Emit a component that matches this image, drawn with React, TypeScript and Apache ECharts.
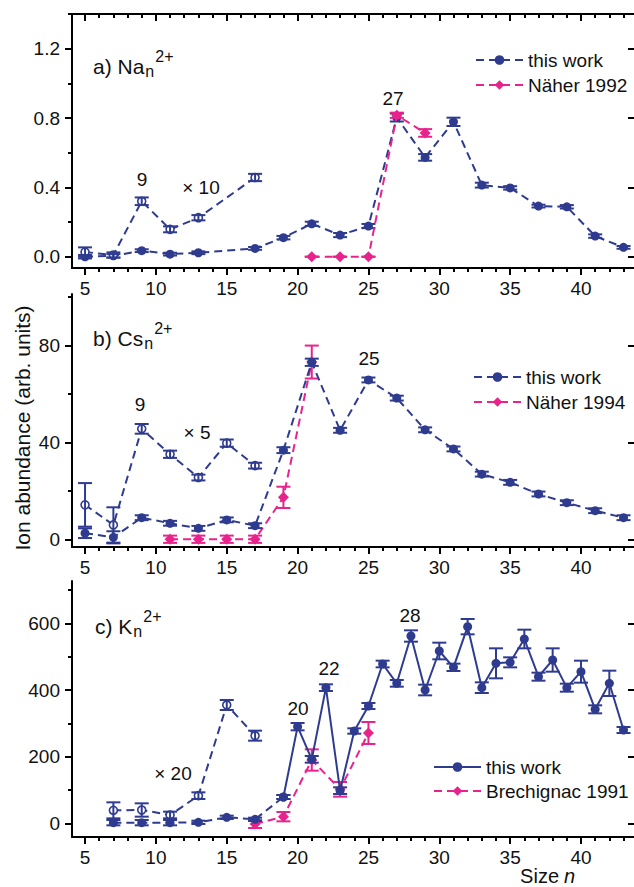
import React, { useEffect, useRef } from "react";
import * as echarts from "echarts";

const FONT = "'Liberation Sans', Arial, Helvetica, sans-serif";
const NAVY = "#2e3b8f";
const PINK = "#e8238c";
const AXIS = "#000000";
const TEXT = "#111111";

// ---------- shared ticks ----------
const xMajorTicks = [5, 10, 15, 20, 25, 30, 35, 40];
const xMinorTicks = [6, 7, 8, 9, 11, 12, 13, 14, 16, 17, 18, 19, 21, 22, 23, 24, 26, 27, 28, 29, 31, 32, 33, 34, 36, 37, 38, 39, 41, 42, 43];

// ---------- panel a: Na ----------
const naYMajor = [0, 0.4, 0.8, 1.2];
const naYMinor = [0.2, 0.6, 1.0, 1.4];
const naSizes = [5, 7, 9, 11, 13, 17, 19, 21, 23, 25, 27, 29, 31, 33, 35, 37, 39, 41, 43];
const naValues = [0.0, 0.005, 0.035, 0.015, 0.023, 0.048, 0.11, 0.19, 0.125, 0.177, 0.803, 0.573, 0.778, 0.413, 0.397, 0.292, 0.288, 0.119, 0.054];
const naErrors = [0.01, 0.01, 0.008, 0.008, 0.008, 0.008, 0.01, 0.012, 0.012, 0.012, 0.023, 0.019, 0.024, 0.014, 0.01, 0.008, 0.01, 0.01, 0.008];
const naX10Sizes = [5, 7, 9, 11, 13, 17];
const naX10Values = [0.027, 0.01, 0.32, 0.158, 0.225, 0.457];
const naX10Errors = [0.027, 0.015, 0.022, 0.017, 0.015, 0.021];
const naher92Sizes = [21, 23, 25, 27, 29];
const naher92Values = [0, 0, 0, 0.816, 0.714];
const naher92Errors = [0, 0, 0, 0.015, 0.022];

// ---------- panel b: Cs ----------
const csYMajor = [0, 40, 80];
const csYMinor = [20, 60, 100];
const csSizes = [5, 7, 9, 11, 13, 15, 17, 19, 21, 23, 25, 27, 29, 31, 33, 35, 37, 39, 41, 43];
const csValues = [2.5, 0.8, 8.9, 6.6, 4.5, 8.0, 5.6, 36.8, 73.1, 45.0, 65.8, 58.3, 45.2, 37.3, 26.9, 23.5, 18.7, 15.1, 11.8, 8.9];
const csErrors = [2, 2.5, 1, 1, 1, 1, 1, 1.2, 1.5, 1, 1, 1, 1, 1, 1, 1, 1, 1, 1, 1];
const csX5Sizes = [5, 7, 9, 11, 13, 15, 17];
const csX5Values = [14.2, 5.9, 45.6, 35.1, 25.5, 39.7, 30.4];
const csX5Errors = [9, 7.3, 2, 1.5, 1.2, 1.5, 1.2];
const naher94Sizes = [11, 13, 15, 17, 19, 21];
const naher94Values = [0, 0, 0, 0, 17.3, 73.2];
const naher94Errors = [1.5, 1.5, 1.5, 1.5, 4.4, 6.8];

// ---------- panel c: K ----------
const kYMajor = [0, 200, 400, 600];
const kYMinor = [100, 300, 500, 700];
const kLowSizes = [7, 9, 11, 13, 15, 17, 19];
const kLowValues = [2, 2, 2, 3, 18, 12, 79];
const kLowErrors = [8, 8, 8, 5, 5, 5, 6];
const kSizes = [19, 20, 21, 22, 23, 24, 25, 26, 27, 28, 29, 30, 31, 32, 33, 34, 35, 36, 37, 38, 39, 40, 41, 42, 43];
const kValues = [79, 290, 192, 407, 98, 277, 352, 478, 420, 562, 400, 517, 468, 590, 407, 480, 483, 553, 440, 490, 407, 455, 342, 420, 280];
const kErrors = [6, 11, 10, 10, 10, 8, 9, 10, 10, 17, 16, 25, 11, 23, 16, 45, 15, 28, 12, 35, 12, 33, 12, 38, 9];
const kX20Sizes = [7, 9, 11, 13, 15, 17];
const kX20Values = [39, 40, 25, 83, 355, 263];
const kX20Errors = [24, 20, 10, 10, 15, 15];
const brSizes = [17, 19, 21, 23, 25];
const brValues = [-2, 20, 190, 102, 271];
const brErrors = [12, 14, 32, 22, 33];

// ---------- layout ----------
const X_MIN = 4.08;
const X_MAX = 43.74;
const GRID_LEFT = 72;
const GRID_WIDTH = 562;

function pairs(xs: number[], ys: number[]) {
  return xs.map((x, i) => [x, ys[i]]);
}

function errorBars(xi: number, yi: number, xs: number[], ys: number[], es: number[], color: string, z: number) {
  return {
    type: "custom",
    xAxisIndex: xi,
    yAxisIndex: yi,
    silent: true,
    clip: true,
    z,
    data: xs.map((x, i) => [x, ys[i] - es[i], ys[i] + es[i]]),
    encode: { x: 0, y: [1, 2] },
    renderItem: (_params: any, api: any) => {
      const lo = api.coord([api.value(0), api.value(1)]);
      const hi = api.coord([api.value(0), api.value(2)]);
      const w = 7;
      const style = { stroke: color, lineWidth: 2 };
      return {
        type: "group",
        children: [
          { type: "line", shape: { x1: lo[0], y1: lo[1], x2: hi[0], y2: hi[1] }, style },
          { type: "line", shape: { x1: lo[0] - w, y1: lo[1], x2: lo[0] + w, y2: lo[1] }, style },
          { type: "line", shape: { x1: hi[0] - w, y1: hi[1], x2: hi[0] + w, y2: hi[1] }, style },
        ],
      };
    },
  };
}

function lineSeries(
  name: string,
  xi: number,
  yi: number,
  xs: number[],
  ys: number[],
  opts: { color: string; symbol: string; size: number; dashed: boolean; open?: boolean; z: number }
) {
  return {
    type: "line",
    name,
    xAxisIndex: xi,
    yAxisIndex: yi,
    data: pairs(xs, ys),
    symbol: opts.symbol,
    symbolSize: opts.size,
    showAllSymbol: true,
    clip: true,
    z: opts.z,
    lineStyle: { color: opts.color, width: 2, type: opts.dashed ? [8, 5] : "solid" },
    itemStyle: opts.open
      ? { color: "#ffffff", borderColor: opts.color, borderWidth: 1.6 }
      : { color: opts.color, borderWidth: 0 },
    emphasis: { disabled: true },
  };
}

function xAxesFor(grid: number, withTop: boolean) {
  const base = { type: "value", gridIndex: grid, min: X_MIN, max: X_MAX, splitLine: { show: false } };
  const tickStyle = { color: AXIS, width: 2 };
  const axes: any[] = [
    {
      ...base,
      position: "bottom",
      axisLine: { show: true, onZero: false, lineStyle: { color: AXIS, width: 2 } },
      axisTick: { show: true, inside: false, length: 7, lineStyle: tickStyle, customValues: xMajorTicks },
      axisLabel: { show: true, customValues: xMajorTicks, margin: 11, fontSize: 19, fontFamily: FONT, color: TEXT },
    },
    {
      ...base,
      position: "bottom",
      axisLine: { show: false, onZero: false },
      axisTick: { show: true, inside: false, length: 4, lineStyle: tickStyle, customValues: xMinorTicks },
      axisLabel: { show: false },
    },
  ];
  if (withTop) {
    axes.push(
      {
        ...base,
        position: "top",
        axisLine: { show: true, onZero: false, lineStyle: { color: AXIS, width: 2 } },
        axisTick: { show: true, inside: true, length: 7, lineStyle: tickStyle, customValues: xMajorTicks },
        axisLabel: { show: false },
      },
      {
        ...base,
        position: "top",
        axisLine: { show: false, onZero: false },
        axisTick: { show: true, inside: true, length: 4, lineStyle: tickStyle, customValues: xMinorTicks },
        axisLabel: { show: false },
      }
    );
  }
  return axes;
}

function yAxesFor(grid: number, min: number, max: number, major: number[], minor: number[], fmt: (v: number) => string) {
  const base = { type: "value", gridIndex: grid, min, max, splitLine: { show: false } };
  const tickStyle = { color: AXIS, width: 2 };
  return [
    {
      ...base,
      position: "left",
      axisLine: { show: true, onZero: false, lineStyle: { color: AXIS, width: 2 } },
      axisTick: { show: true, inside: false, length: 7, lineStyle: tickStyle, customValues: major },
      axisLabel: { show: true, customValues: major, formatter: fmt, margin: 12, fontSize: 19, fontFamily: FONT, color: TEXT },
    },
    {
      ...base,
      position: "left",
      axisLine: { show: false, onZero: false },
      axisTick: { show: true, inside: false, length: 4, lineStyle: tickStyle, customValues: minor },
      axisLabel: { show: false },
    },
    {
      ...base,
      position: "right",
      axisLine: { show: false, onZero: false },
      axisTick: { show: true, inside: true, length: 6, lineStyle: tickStyle, customValues: major },
      axisLabel: { show: false },
    },
  ];
}

function txt(x: number, y: number, text: string, size = 19, align = "center", extra: any = {}) {
  return {
    type: "text",
    x,
    y,
    silent: true,
    z: 50,
    ...extra,
    style: {
      text,
      fontSize: size,
      fontFamily: FONT,
      fill: TEXT,
      align,
      verticalAlign: "middle",
      ...(extra.style || {}),
    },
  };
}

function panelTitle(x: number, y: number, main: string, sub: string, sup: string, mainWidthEm: number) {
  const mainSize = 21;
  const subX = x + mainWidthEm * mainSize + 1;
  return [
    txt(x, y, main, mainSize, "left"),
    txt(subX, y + 5, sub, 16, "left"),
    txt(subX + 10, y - 10, sup, 16, "left"),
  ];
}

const legendFmt = (name: string) => (name.indexOf("this work") === 0 ? "this work" : name);

function legendAt(left: number, top: number, data: string[], gap: number) {
  return {
    data,
    left,
    top,
    orient: "vertical",
    itemWidth: 47,
    itemHeight: 12,
    itemGap: gap,
    selectedMode: false,
    formatter: legendFmt,
    textStyle: { fontSize: 19, fontFamily: FONT, color: TEXT, lineHeight: 22 },
  };
}

export default function App() {
  const ref = useRef<HTMLDivElement>(null);

  useEffect(() => {
    if (!ref.current) return;
    const chart = echarts.init(ref.current, undefined, { renderer: "svg" });

    const fmt1 = (v: number) => v.toFixed(1);
    const fmt0 = (v: number) => String(Math.round(v));

    const option: any = {
      animation: false,
      backgroundColor: "#ffffff",
      grid: [
        { left: GRID_LEFT, top: 14, width: GRID_WIDTH, height: 254 },
        { left: GRID_LEFT, top: 294, width: GRID_WIDTH, height: 253 },
        { left: GRID_LEFT, top: 581, width: GRID_WIDTH, height: 256 },
      ],
      // x axes: 0..3 grid a, 4..5 grid b, 6..7 grid c
      xAxis: [...xAxesFor(0, true), ...xAxesFor(1, false), ...xAxesFor(2, false)],
      // y axes: 0..2 grid a, 3..5 grid b, 6..8 grid c
      yAxis: [
        ...yAxesFor(0, -0.065, 1.4, naYMajor, naYMinor, fmt1),
        ...yAxesFor(1, -3.2, 101.3, csYMajor, csYMinor, fmt0),
        ...yAxesFor(2, -41, 727, kYMajor, kYMinor, fmt0),
      ],
      legend: [
        legendAt(470, 44, ["this work (Na)", "Näher 1992"], 3),
        legendAt(468, 361, ["this work (Cs)", "Näher 1994"], 3),
        legendAt(428, 751, ["this work (K)", "Brechignac 1991"], 2),
      ],
      series: [
        // panel a
        lineSeries("this work (Na)", 0, 0, naSizes, naValues, { color: NAVY, symbol: "circle", size: 9, dashed: true, z: 3 }),
        errorBars(0, 0, naSizes, naValues, naErrors, NAVY, 4),
        lineSeries("Na x10", 0, 0, naX10Sizes, naX10Values, { color: NAVY, symbol: "circle", size: 8, dashed: true, open: true, z: 3 }),
        errorBars(0, 0, naX10Sizes, naX10Values, naX10Errors, NAVY, 4),
        lineSeries("Näher 1992", 0, 0, naher92Sizes, naher92Values, { color: PINK, symbol: "diamond", size: 11, dashed: true, z: 5 }),
        errorBars(0, 0, naher92Sizes, naher92Values, naher92Errors, PINK, 6),
        // panel b
        lineSeries("Näher 1994", 4, 3, naher94Sizes, naher94Values, { color: PINK, symbol: "diamond", size: 11, dashed: true, z: 3 }),
        errorBars(4, 3, naher94Sizes, naher94Values, naher94Errors, PINK, 4),
        lineSeries("this work (Cs)", 4, 3, csSizes, csValues, { color: NAVY, symbol: "circle", size: 9, dashed: true, z: 5 }),
        errorBars(4, 3, csSizes, csValues, csErrors, NAVY, 6),
        lineSeries("Cs x5", 4, 3, csX5Sizes, csX5Values, { color: NAVY, symbol: "circle", size: 8, dashed: true, open: true, z: 5 }),
        errorBars(4, 3, csX5Sizes, csX5Values, csX5Errors, NAVY, 6),
        // panel c
        lineSeries("Brechignac 1991", 6, 6, brSizes, brValues, { color: PINK, symbol: "diamond", size: 11, dashed: true, z: 3 }),
        errorBars(6, 6, brSizes, brValues, brErrors, PINK, 4),
        lineSeries("K low", 6, 6, kLowSizes, kLowValues, { color: NAVY, symbol: "circle", size: 9, dashed: true, z: 5 }),
        errorBars(6, 6, kLowSizes, kLowValues, kLowErrors, NAVY, 6),
        lineSeries("this work (K)", 6, 6, kSizes, kValues, { color: NAVY, symbol: "circle", size: 9, dashed: false, z: 5 }),
        errorBars(6, 6, kSizes, kValues, kErrors, NAVY, 6),
        lineSeries("K x20", 6, 6, kX20Sizes, kX20Values, { color: NAVY, symbol: "circle", size: 8, dashed: true, open: true, z: 5 }),
        errorBars(6, 6, kX20Sizes, kX20Values, kX20Errors, NAVY, 6),
      ],
      graphic: [
        ...panelTitle(93, 66, "a) Na", "n", "2+", 2.445),
        ...panelTitle(93, 338, "b) Cs", "n", "2+", 2.389),
        ...panelTitle(95, 626, "c) K", "n", "2+", 1.778),
        txt(142, 179, "9"),
        txt(201, 187, "× 10"),
        txt(393, 98, "27"),
        txt(140, 404, "9"),
        txt(197, 432, "× 5"),
        txt(369, 358, "25"),
        txt(173, 773, "× 20"),
        txt(298, 708, "20"),
        txt(329, 668, "22"),
        txt(410, 615, "28"),
        txt(22, 428, "Ion abundance (arb. units)", 21, "center", { rotation: Math.PI / 2 }),
        txt(559, 876, "Size", 20, "right"),
        txt(564, 876, "n", 20, "left", { style: { fontStyle: "italic" } }),
      ],
    };

    chart.setOption(option);
    return () => chart.dispose();
  }, []);

  return (
    <div
      ref={ref}
      style={{ position: "absolute", left: 0, top: 0, width: 634, height: 887, background: "#fff" }}
    />
  );
}
